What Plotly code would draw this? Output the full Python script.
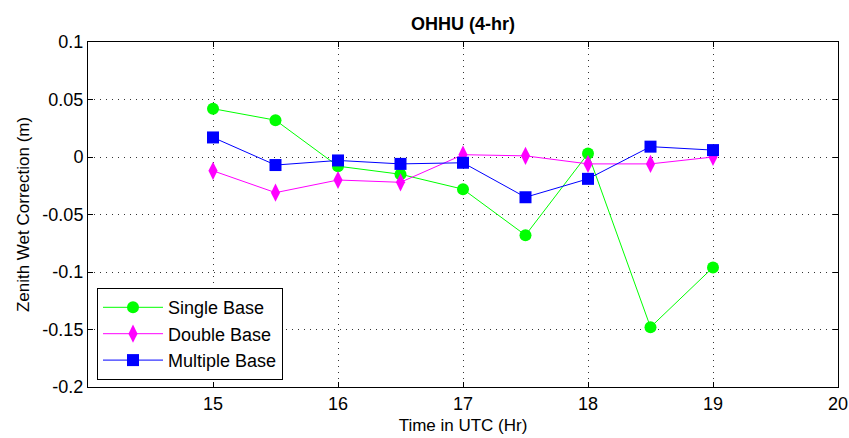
import plotly.graph_objects as go

hours = [15, 15.5, 16, 16.5, 17, 17.5, 18, 18.5, 19]
single_base = [0.042, 0.032, -0.008, -0.015, -0.028, -0.068, 0.003, -0.148, -0.096]
double_base = [-0.012, -0.031, -0.020, -0.022, 0.002, 0.001, -0.006, -0.006, 0.0]
multiple_base = [0.017, -0.007, -0.003, -0.006, -0.005, -0.035, -0.019, 0.009, 0.006]

x_ticks = [15, 16, 17, 18, 19, 20]
y_ticks = [0.1, 0.05, 0, -0.05, -0.1, -0.15, -0.2]
y_tick_text = ["0.1", "0.05", "0", "-0.05", "-0.1", "-0.15", "-0.2"]

font_family = "Liberation Sans, Arial, sans-serif"

fig = go.Figure()
fig.add_trace(go.Scatter(
    x=hours, y=single_base, name="Single Base", mode="lines+markers",
    line=dict(color="#00ff00", width=1),
    marker=dict(symbol="circle", size=12, color="#00ff00"),
))
fig.add_trace(go.Scatter(
    x=hours, y=double_base, name="Double Base", mode="lines+markers",
    line=dict(color="#ff00ff", width=1),
    marker=dict(symbol="diamond-tall", size=13, color="#ff00ff"),
))
fig.add_trace(go.Scatter(
    x=hours, y=multiple_base, name="Multiple Base", mode="lines+markers",
    line=dict(color="#0000ff", width=1),
    marker=dict(symbol="square", size=12, color="#0000ff"),
))

axis_common = dict(
    showline=True, linecolor="black", linewidth=1, mirror="ticks",
    ticks="inside", ticklen=5, tickcolor="black",
    showgrid=True, gridcolor="#333333", gridwidth=1, griddash="1px,5px",
    zeroline=False, automargin=False,
    tickfont=dict(family=font_family, size=18, color="black"),
    ticklabeloverflow="allow",
)

fig.update_xaxes(
    range=[14, 20], tickvals=x_ticks,
    title=dict(text="Time in UTC (Hr)", font=dict(family=font_family, size=17, color="black"), standoff=6),
    **axis_common,
)
fig.update_yaxes(
    range=[-0.2, 0.1], tickvals=y_ticks, ticktext=y_tick_text,
    title=dict(text="Zenith Wet Correction (m)", font=dict(family=font_family, size=17, color="black"), standoff=8),
    **axis_common,
)

fig.update_layout(
    width=849, height=438,
    margin=dict(l=88, r=11, t=42, b=51),
    paper_bgcolor="white", plot_bgcolor="white",
    title=dict(text="<b>OHHU (4-hr)</b>", x=0.5, xref="paper", xanchor="center",
               y=1, yref="paper", yanchor="bottom", pad=dict(b=12),
               font=dict(family=font_family, size=18, color="black")),
    legend=dict(
        x=0.012, y=0.02, xanchor="left", yanchor="bottom",
        bgcolor="white", bordercolor="black", borderwidth=1,
        font=dict(family=font_family, size=18, color="black"),
        itemwidth=60, tracegroupgap=0,
        entrywidth=200, entrywidthmode="pixels",
    ),
    showlegend=True,
)

fig.write_html("out.html")
